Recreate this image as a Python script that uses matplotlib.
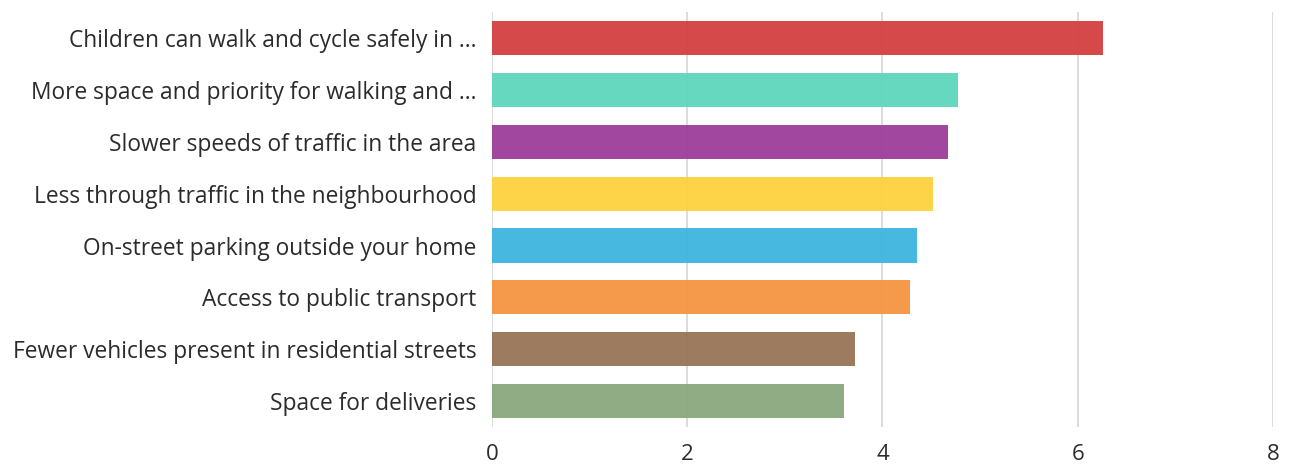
import matplotlib.pyplot as plt

labels = [
    "Children can walk and cycle safely in ...",
    "More space and priority for walking and ...",
    "Slower speeds of traffic in the area",
    "Less through traffic in the neighbourhood",
    "On-street parking outside your home",
    "Access to public transport",
    "Fewer vehicles present in residential streets",
    "Space for deliveries",
]
scores = [6.26, 4.77, 4.67, 4.52, 4.35, 4.28, 3.72, 3.61]
colors = ["#d43f40", "#5dd6bc", "#9d3d9b", "#fdd23e", "#3db5e0",
          "#f59541", "#977456", "#8aa87d"]
ticks = [0, 2, 4, 6, 8]

plt.rcParams['font.family'] = ['Open Sans', 'DejaVu Sans']

fig = plt.figure(figsize=(12.9, 4.68), dpi=100)
ax = fig.add_axes([0.3814, 0.0876, 0.6054, 0.8864])

ax.set_axisbelow(True)
ax.grid(axis='x', color='#d9d9d9', linewidth=1.3)
ax.barh(range(len(labels)), scores, height=0.66, color=colors, alpha=0.95)

ax.set_xlim(0, 8)
ax.set_ylim(len(labels) - 0.5, -0.5)
ax.set_xticks(ticks)
ax.set_yticks(range(len(labels)))
ax.set_yticklabels(labels, fontsize=16.4, color='#2b2b2b')
ax.tick_params(axis='x', labelsize=16, labelcolor='#2b2b2b', length=0, pad=12)
ax.tick_params(axis='y', length=0, pad=11)
for side in ax.spines.values():
    side.set_visible(False)

fig.savefig("out.png", dpi=100)
